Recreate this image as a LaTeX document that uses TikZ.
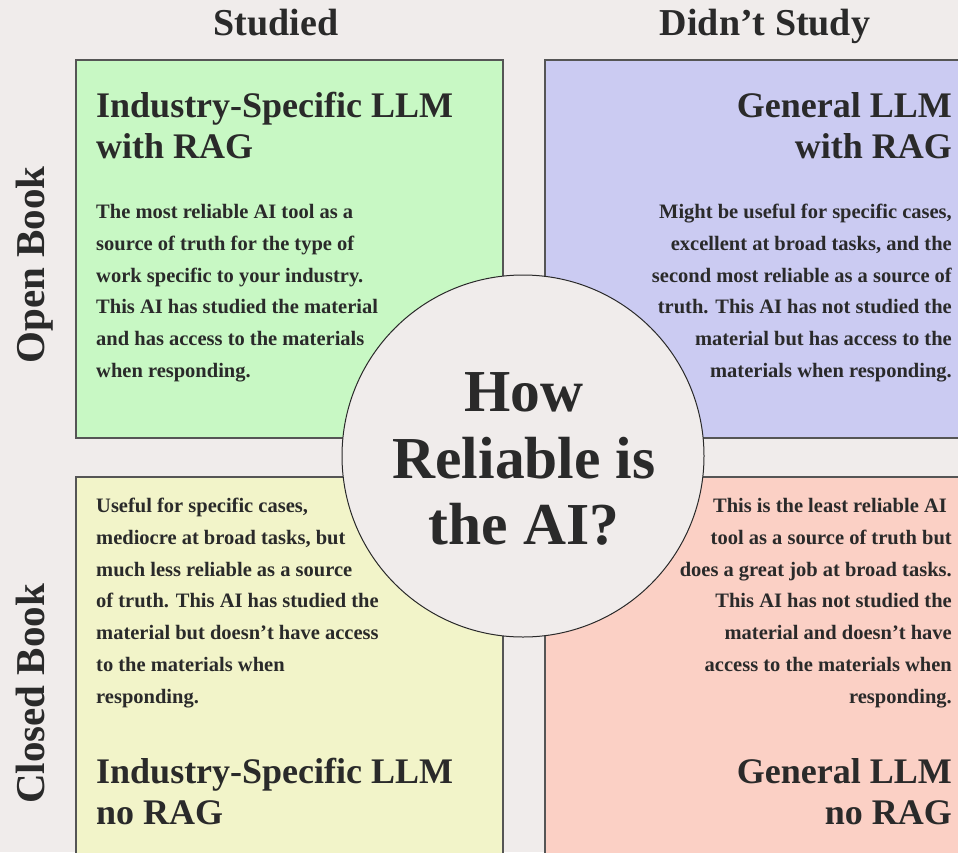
\documentclass[tikz,border=0pt]{standalone}
\usepackage{fontspec}
\setmainfont{Liberation Serif}
\definecolor{bgc}{HTML}{F0ECEB}
\definecolor{inkc}{HTML}{2A2A2A}
\definecolor{edgec}{HTML}{555555}
\definecolor{greenc}{HTML}{C8F8C4}
\definecolor{violetc}{HTML}{CBCBF2}
\definecolor{yellowc}{HTML}{F2F4C9}
\definecolor{redc}{HTML}{FBD0C5}
\begin{document}
\begin{tikzpicture}[x=1pt,y=-1pt,
  quad/.style={draw=edgec, line width=1.5pt},
  head/.style={font=\bfseries\fontsize{38}{40}\selectfont, text=inkc, inner sep=0pt},
  side/.style={font=\bfseries\fontsize{41}{44}\selectfont, text=inkc, inner sep=0pt, rotate=90, anchor=base},
  title/.style={font=\bfseries\fontsize{36}{41}\selectfont, text=inkc, inner sep=0pt},
  body/.style={font=\bfseries\fontsize{20.5}{31.8}\selectfont, text=inkc, inner sep=0pt},
  hubtext/.style={font=\bfseries\fontsize{59.5}{66.5}\selectfont, text=inkc, inner sep=0pt, align=center},
  ]
% canvas
\useasboundingbox (0,0) rectangle (958,852);
\fill[bgc] (0,0) rectangle (958,852);

% quadrant panels (right and bottom ones run past the edge)
\begin{scope}
  \clip (0,0) rectangle (958,852);
  \path[quad, fill=greenc]  (76,60)  rectangle (503,438);
  \path[quad, fill=violetc] (545,60) rectangle (990,438);
  \path[quad, fill=yellowc] (76,477) rectangle (503,890);
  \path[quad, fill=redc]    (545,477) rectangle (990,890);
\end{scope}

% axis labels
\node[head, anchor=base] (studied) at (276,35) {Studied};
\node[head, anchor=base] (didnt) at (765,35) {Didn’t Study};
\node[side] (open) at (44,265) {Open Book};
\node[side] (closed) at (44,694) {Closed Book};

% top left
\node[title, align=left, anchor=north west] (gtitle) at (96,92) {Industry-Specific LLM\\with RAG};
\node[body, align=left, anchor=north west] (gbody) at (96,204) {The most reliable AI tool as a\\source of truth for the type of\\work specific to your industry.\\This AI has studied the material\\and has access to the materials\\when responding.};

% top right
\node[title, align=right, anchor=north east] (vtitle) at (952,92.7) {General LLM\\with RAG};
\node[body, align=right, anchor=north east] (vbody) at (952,203.8) {Might be useful for specific cases,\\excellent at broad tasks, and the\\second most reliable as a source of\\truth. This AI has not studied the\\material but has access to the\\materials when responding.};

% bottom left
\node[body, align=left, anchor=north west] (ybody) at (96,497.8) {Useful for specific cases,\\mediocre at broad tasks, but\\much less reliable as a source\\of truth. This AI has studied the\\material but doesn’t have access\\to the materials when\\responding.};
\node[title, align=left, anchor=north west] (ytitle) at (96,758) {Industry-Specific LLM\\no RAG};

% bottom right
\node[body, align=right, anchor=north east] (rbody) at (952,498) {This is the least reliable AI\kern5pt\\tool as a source of truth but\\does a great job at broad tasks.\\This AI has not studied the\\material and doesn’t have\\access to the materials when\\responding.};
\node[title, align=right, anchor=north east] (rtitle) at (952,758.7) {General LLM\\no RAG};

% central question
\node[circle, draw=inkc, line width=1pt, fill=bgc, minimum size=362pt, inner sep=0pt] (hub) at (523,456) {};
\node[hubtext, anchor=north] (question) at (524,372.6) {How\\Reliable is\\the AI?};
\end{tikzpicture}
\end{document}
